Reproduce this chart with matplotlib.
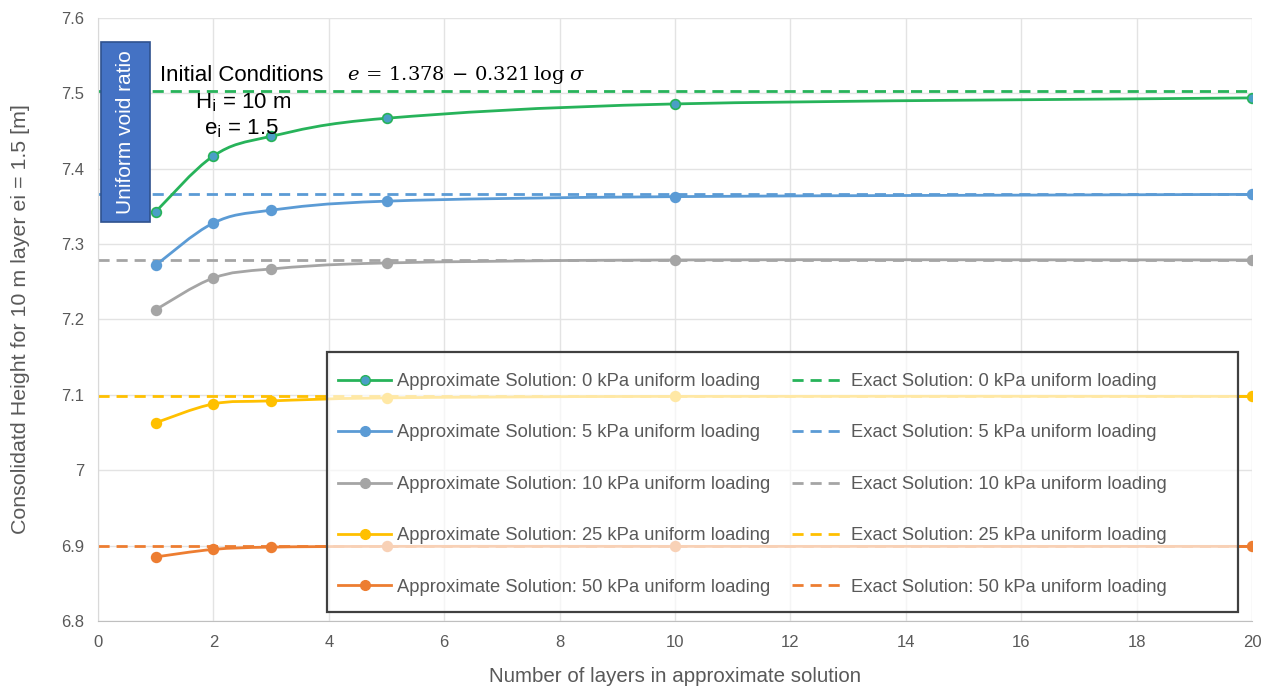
import matplotlib
matplotlib.use("Agg")
import matplotlib.pyplot as plt
from matplotlib.path import Path
from matplotlib.patches import PathPatch, Rectangle
from matplotlib.lines import Line2D
from matplotlib.ticker import FuncFormatter, MultipleLocator
import numpy as np

plt.rcParams['font.family'] = ['Liberation Sans', 'DejaVu Sans']

# data
layers = [1, 2, 3, 5, 10, 20]
loads = ['0', '5', '10', '25', '50']
approx_0 = [7.343, 7.417, 7.443, 7.467, 7.486, 7.494]
approx_5 = [7.272, 7.328, 7.345, 7.357, 7.363, 7.366]
approx_10 = [7.213, 7.255, 7.267, 7.275, 7.279, 7.279]
approx_25 = [7.063, 7.088, 7.092, 7.096, 7.098, 7.098]
approx_50 = [6.885, 6.895, 6.898, 6.899, 6.899, 6.899]
exact = [7.503, 7.366, 7.279, 7.098, 6.900]

approx_all = [approx_0, approx_5, approx_10, approx_25, approx_50]
colors = ['#27b35a', '#5b9bd5', '#a5a5a5', '#ffc000', '#ed7d31']
face_colors = ['#4a9fc6', '#5b9bd5', '#a5a5a5', '#ffc000', '#ed7d31']
grey_txt = '#595959'

W, H = 1268, 689
AX_L, AX_R, AX_T, AX_B = 98, 1252, 18, 621


def px_to_axes(x, y):
    return (x - AX_L) / (AX_R - AX_L), (AX_B - y) / (AX_B - AX_T)


def smooth_path(xs, ys):
    # Excel-like smoothed line: cubic bezier segments (Catmull-Rom style)
    pts = np.column_stack([xs, ys]).astype(float)
    n = len(pts)
    verts = [pts[0]]
    codes = [Path.MOVETO]
    for i in range(n - 1):
        p0 = pts[i - 1] if i > 0 else pts[i]
        p1 = pts[i]
        p2 = pts[i + 1]
        p3 = pts[i + 2] if i + 2 < n else pts[i + 1]
        c1 = p1 + (p2 - p0) / 6.0
        c2 = p2 - (p3 - p1) / 6.0
        verts += [c1, c2, p2]
        codes += [Path.CURVE4] * 3
    return Path(verts, codes)


fig = plt.figure(figsize=(W / 100, H / 100), dpi=100)
ax = fig.add_axes([AX_L / W, 1 - AX_B / H, (AX_R - AX_L) / W, (AX_B - AX_T) / H])

handles_a, handles_e, labels_a, labels_e = [], [], [], []
for ys, ex, c, fc, ld in zip(approx_all, exact, colors, face_colors, loads):
    ax.axhline(ex, color=c, lw=2.0, ls=(0, (4, 2.5)), zorder=2)
    ax.add_patch(PathPatch(smooth_path(layers, ys), facecolor='none', edgecolor=c, lw=2.0, zorder=3))
    ax.plot(layers, ys, ls='none', marker='o', ms=7, mfc=fc, mec=c, mew=1.2, zorder=4)
    handles_a.append(Line2D([], [], color=c, lw=2.0, marker='o', ms=7, mfc=fc, mec=c))
    handles_e.append(Line2D([], [], color=c, lw=2.0, ls=(0, (4, 2.5))))
    labels_a.append(f'Approximate Solution: {ld} kPa uniform loading')
    labels_e.append(f'Exact Solution: {ld} kPa uniform loading')

ax.set_xlim(0, 20)
ax.set_ylim(6.8, 7.6)
ax.xaxis.set_major_locator(MultipleLocator(2))
ax.yaxis.set_major_locator(MultipleLocator(0.1))
ax.yaxis.set_major_formatter(FuncFormatter(lambda v, p: f'{v:g}' if abs(v - 7) > 1e-9 else '7'))
ax.grid(True, color='#e3e3e3', lw=1.0, zorder=0)
ax.set_axisbelow(True)
for s in ['top', 'right']:
    ax.spines[s].set_visible(False)
ax.spines['left'].set_color('#d9d9d9')
ax.spines['bottom'].set_color('#bfbfbf')
ax.tick_params(length=0, labelsize=12, colors=grey_txt, pad=10)
ax.set_xlabel('Number of layers in approximate solution', fontsize=14.8, color=grey_txt, labelpad=12)
ax.set_ylabel('Consolidatd Height for 10 m layer ei = 1.5 [m]', fontsize=15.4, color=grey_txt, labelpad=22)

# legend box (semi-transparent, drawn separately so it can be wider than its entries)
bx0, by1 = px_to_axes(327, 612)
bx1, by0 = px_to_axes(1238, 352)
ax.add_patch(Rectangle((bx0, by1), bx1 - bx0, by0 - by1, transform=ax.transAxes,
                       facecolor='white', alpha=0.65, edgecolor='none', zorder=9))
ax.add_patch(Rectangle((bx0, by1), bx1 - bx0, by0 - by1, transform=ax.transAxes,
                       facecolor='none', edgecolor='#404040', lw=1.6, zorder=11))

leg = ax.legend(handles_a + handles_e, labels_a + labels_e, ncol=2, loc='upper left',
                bbox_to_anchor=px_to_axes(338, 373),
                fontsize=13.2, labelcolor=grey_txt, frameon=False, labelspacing=1.88,
                handlelength=2.9, handletextpad=0.33, columnspacing=1.15,
                borderpad=0, borderaxespad=0)
leg.set_zorder(10)

# annotation box and texts
ax.add_patch(Rectangle((0.05, 7.329), 0.85, 0.239, facecolor='#4472c4', edgecolor='#2f528f',
                       lw=1.2, zorder=6))
ax.text(0.475, 7.4485, 'Uniform void ratio', rotation=90, color='white', fontsize=15,
        ha='center', va='center', zorder=7)
ax.text(1.08, 7.524, 'Initial Conditions', fontsize=16, color='black', ha='left', va='center', zorder=7)
ax.text(4.32, 7.524, r'$e\,=\,\mathrm{1.378}\,-\,\mathrm{0.321}\,\log\,\sigma$', fontsize=14,
        color='black', ha='left', va='center', zorder=7, math_fontfamily='dejavuserif')
ax.text(2.52, 7.488, r'H$_{\mathrm{i}}$ = 10 m', fontsize=16, color='black', ha='center', va='center', zorder=7)
ax.text(2.48, 7.453, r'e$_{\mathrm{i}}$ = 1.5', fontsize=16, color='black', ha='center', va='center', zorder=7)

fig.savefig('out.png', dpi=100)
